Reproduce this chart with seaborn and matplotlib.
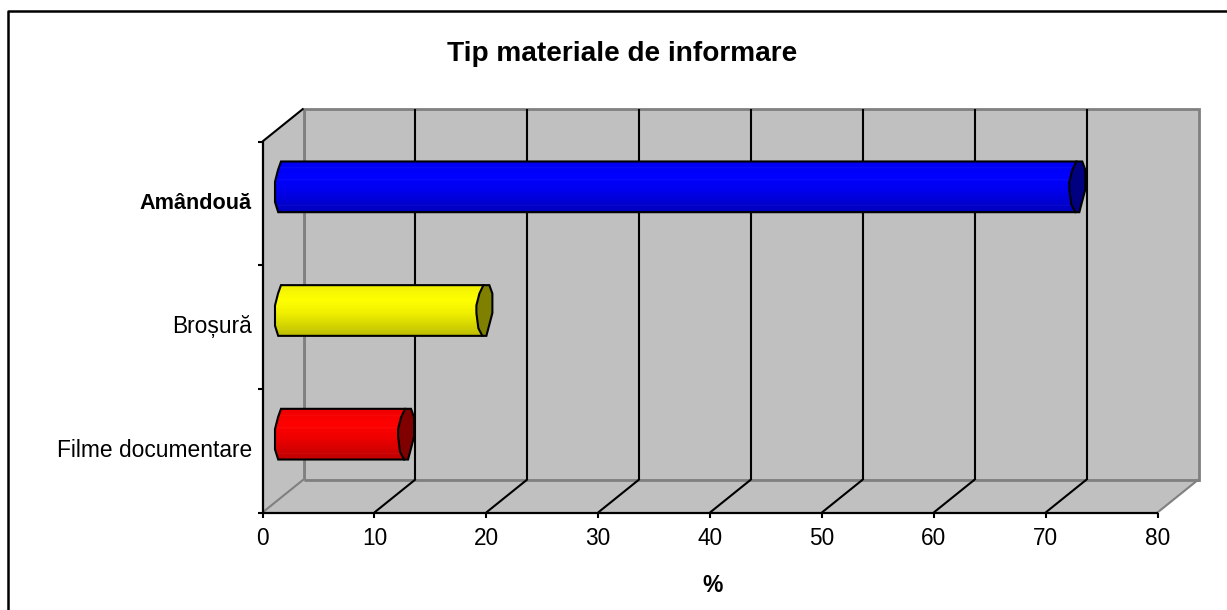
import numpy as np
import matplotlib
matplotlib.use("Agg")
import matplotlib.pyplot as plt
from matplotlib.patches import Polygon
from matplotlib.colors import to_rgb
from matplotlib.lines import Line2D
from matplotlib.transforms import IdentityTransform, Affine2D
import seaborn as sns

# ---- data ----
categories = ["Amândouă", "Broșură", "Filme documentare"]
values = [71, 18, 11]
bar_colors = ["#0000FF", "#FFFF00", "#FF0000"]
cap_colors = ["#000080", "#808000", "#800000"]
x_ticks = [0, 10, 20, 30, 40, 50, 60, 70, 80]
title = "Tip materiale de informare"
x_title = "%"

sns.set_theme(style="white")
plt.rcParams["font.family"] = ["Liberation Sans", "DejaVu Sans"]

W, H = 1227, 610
fig = plt.figure(figsize=(W / 100, H / 100), dpi=100, facecolor="white")
L, R, T, B = 262.5, 1157.5, 141.5, 512.5
ax = fig.add_axes([L / W, 1 - B / H, (R - L) / W, (B - T) / H])
DX, DY = 41, 33   # depth of the 3D box, in pixels
BLACK, GREY, WALL = "#000000", "#808080", "#C0C0C0"

sns.barplot(x=values, y=categories, hue=categories, palette=bar_colors,
            order=categories, hue_order=categories, orient="h",
            width=0.41, legend=False, ax=ax, saturation=1, linewidth=0, zorder=1)
ax.set_xlim(0, 80)
ax.set_ylim(2.5, -0.5)
ax.patch.set_alpha(0)
for s in ax.spines.values():
    s.set_visible(False)

ident = IdentityTransform()
def d2p(x, y):
    return ax.transData.transform((x, y))

def fig_poly(pts, zorder, **kw):
    p = Polygon(pts, closed=True, transform=ident, zorder=zorder, clip_on=False, **kw)
    fig.add_artist(p)
    return p

def fig_line(a, b, color, lw=1.5, zorder=-2):
    fig.add_artist(Line2D([a[0], b[0]], [a[1], b[1]], transform=ident, color=color,
                          lw=lw, zorder=zorder, solid_capstyle="butt"))

depth = np.array([DX, DY])
bl, br = d2p(0, 2.5), d2p(80, 2.5)
tl = d2p(0, -0.5)
# walls and floor
back = [bl + depth, br + depth, d2p(80, -0.5) + depth, tl + depth]
fig_poly(back, -3, facecolor=WALL, edgecolor=GREY, lw=2)
fig_poly([bl, br, br + depth, bl + depth], -3, facecolor=WALL, edgecolor="none")
fig_poly([bl, bl + depth, tl + depth, tl], -3, facecolor=WALL, edgecolor="none")
fig_line(bl + depth, br + depth, GREY, 2)
fig_line(bl + depth, tl + depth, GREY, 2)
fig_line(br, br + depth, GREY, 1.5)
fig_line(bl, bl + depth, GREY, 1.5)
fig_line(tl, tl + depth, BLACK, 1.5)
for v in x_ticks[1:-1]:
    a = d2p(v, 2.5)
    fig_line(a, a + depth, BLACK, 1.5)
    fig_line(a + depth, d2p(v, -0.5) + depth, BLACK, 1.5)
fig_line(bl, tl + np.array([0, 0.75]), BLACK, 1.6, 5)
fig_line(bl - np.array([0.75, 0]), br + np.array([0.75, 0]), BLACK, 1.6, 5)

# faceted end cap of the low-resolution cylinder (unit offsets, y up)
cap_shape = np.array([[-0.12, 1.0], [0.62, 1.0], [1.0, 0.67], [1.0, -0.1],
                      [0.25, -1.0], [-0.25, -1.0], [-0.75, -0.7], [-1.0, -0.1],
                      [-1.0, 0.2], [-0.62, 0.67]])
left_shape = np.array([[-0.25, 1.0], [-0.62, 0.67], [-1.0, 0.2], [-1.0, -0.6], [-0.6, -1.0]])
half_w = 8.0
pos = np.linspace(0, 1, 200)
for bar, base, cap in zip(ax.patches, bar_colors, cap_colors):
    v = bar.get_width()
    yc = bar.get_y() + bar.get_height() / 2
    half_h = abs(d2p(0, bar.get_y())[1] - d2p(0, bar.get_y() + bar.get_height())[1]) / 2
    c0 = d2p(0, yc) + depth / 2
    c1 = d2p(v, yc) + depth / 2
    # flat seaborn bar moved to the middle of the box depth
    bar.set_transform(ax.transData + Affine2D().translate(DX / 2, DY / 2))
    bar.set_clip_on(False)
    scale = np.array([half_w, half_h])
    outline_pts = np.vstack([c0 + left_shape * scale,
                             c1 + np.array([-0.25, -1.0]) * scale,
                             c1 + np.array([-0.12, 1.0]) * scale])
    fig_poly(outline_pts, 2, facecolor="none", edgecolor=BLACK, lw=1.5)
    # vertical shading of the cylinder
    f = np.interp(pos, [0, 0.14, 0.3, 0.55, 1], [0.93, 0.97, 1.0, 0.94, 0.74])
    arr = f[:, None] * np.array(to_rgb(base))[None, :]
    for band in (0.13, 0.37, 0.87):
        arr[np.abs(pos - band) < 0.01] = arr[np.abs(pos - band) < 0.01] * 0.95 + 0.05
    arr = arr[:, None, :]
    x0, x1 = c0[0] - half_w, c1[0] + half_w
    im = ax.imshow(arr, extent=(x0, x1, c0[1] - half_h, c0[1] + half_h), aspect="auto",
                   origin="upper", transform=ident, zorder=1.5, interpolation="bilinear")
    im.set_clip_path(Polygon(outline_pts, closed=True, transform=ident))
    fig_poly(c1 + cap_shape * scale, 3, facecolor=cap, edgecolor=BLACK, lw=1.5)
ax.set_xlim(0, 80)
ax.set_ylim(2.5, -0.5)

# axes ticks and labels
ax.set_xticks(x_ticks)
ax.set_yticks([-0.5, 0.5, 1.5, 2.5])
ax.set_yticklabels([])
ax.set_ylabel("")
ax.tick_params(axis="x", length=3.5, width=1.5, color=BLACK, labelsize=16.3, labelcolor=BLACK,
               pad=7, bottom=True)
ax.tick_params(axis="y", length=3.5, width=1.5, color=BLACK, left=True)
for i, c in enumerate(categories):
    ax.text(252, H - d2p(0, i)[1], c, ha="right", va="center",
            fontsize=15.6 if i == 0 else 16.4, fontweight="bold" if i == 0 else "normal",
            color=BLACK, clip_on=False,
            transform=Affine2D().scale(1, -1).translate(0, H))

fig.text(622 / W, 1 - 54 / H, title, ha="center", va="center", fontsize=20.2,
         fontweight="bold", color=BLACK)
fig.text(713 / W, 1 - 586 / H, x_title, ha="center", va="center", fontsize=16.5,
         fontweight="bold", color=BLACK)

# chart-area frame
fig.add_artist(Line2D([8, 8, W], [0, H - 11, H - 11], transform=ident, color=BLACK, lw=1.8, zorder=10))

fig.savefig("out.png", dpi=100, facecolor="white")
